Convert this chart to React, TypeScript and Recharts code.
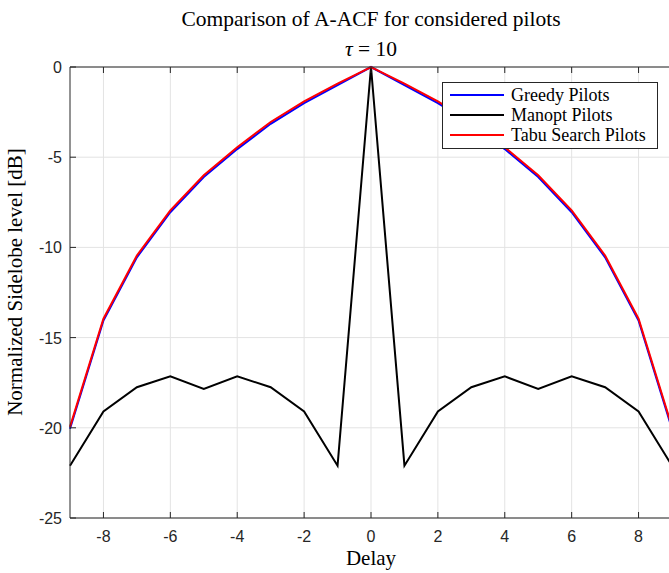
import { CartesianGrid, Line, LineChart, XAxis, YAxis } from "recharts";

const delays = [-9, -8, -7, -6, -5, -4, -3, -2, -1, 0, 1, 2, 3, 4, 5, 6, 7, 8, 9];
const greedy = [-20.05, -14.05, -10.55, -8.05, -6.1, -4.55, -3.15, -2.0, -1.0, 0, -1.0, -2.0, -3.15, -4.55, -6.1, -8.05, -10.55, -14.05, -20.05];
const manopt = [-22.1, -19.1, -17.75, -17.15, -17.85, -17.15, -17.75, -19.1, -22.1, 0, -22.1, -19.1, -17.75, -17.15, -17.85, -17.15, -17.75, -19.1, -22.1];
const tabu = [-19.95, -13.95, -10.45, -7.95, -6.0, -4.45, -3.05, -1.9, -0.92, 0, -0.92, -1.9, -3.05, -4.45, -6.0, -7.95, -10.45, -13.95, -19.95];
const xTicks = [-8, -6, -4, -2, 0, 2, 4, 6, 8];
const yTicks = [-25, -20, -15, -10, -5, 0];

const rows = delays.map((d, i) => ({ delay: d, greedy: greedy[i], manopt: manopt[i], tabu: tabu[i] }));

const AXIS = "#262626";
const serif = "'Liberation Serif', 'DejaVu Serif', serif";
const sans = "'Liberation Sans', Arial, sans-serif";

function BottomTick({ x, y, payload }: any) {
  return (
    <g>
      <line x1={x} y1={y} x2={x} y2={y - 6} stroke={AXIS} />
      <text x={x} y={y + 24} textAnchor="middle" fill={AXIS} fontSize={16} fontFamily={sans}>
        {payload.value}
      </text>
    </g>
  );
}

function TopTick({ x, y }: any) {
  return <line x1={x} y1={y} x2={x} y2={y + 6} stroke={AXIS} />;
}

function LeftTick({ x, y, payload }: any) {
  return (
    <g>
      <line x1={x} y1={y} x2={x + 6} y2={y} stroke={AXIS} />
      <text x={x - 8} y={y + 6} textAnchor="end" fill={AXIS} fontSize={16} fontFamily={sans}>
        {payload.value}
      </text>
    </g>
  );
}

const legendItems = [
  { name: "Greedy Pilots", color: "#0000ff" },
  { name: "Manopt Pilots", color: "#000000" },
  { name: "Tabu Search Pilots", color: "#ff0000" },
];

function LegendBox() {
  return (
    <div
      style={{
        position: "absolute",
        left: 442,
        top: 82,
        width: 216,
        height: 67,
        boxSizing: "border-box",
        background: "#fff",
        border: "1px solid #262626",
        padding: "2px 0 0 7px",
        fontFamily: serif,
        fontSize: 18,
        color: "#000",
        lineHeight: "20px",
      }}
    >
      {legendItems.map((it) => (
        <div key={it.name} style={{ display: "flex", alignItems: "center" }}>
          <span style={{ display: "inline-block", width: 54, height: 2, background: it.color, marginRight: 7 }} />
          {it.name}
        </div>
      ))}
    </div>
  );
}

export default function App() {
  return (
    <div style={{ position: "absolute", left: 0, top: 0, width: 669, height: 573, overflow: "hidden", background: "#fff" }}>
      <LineChart width={680} height={573} data={rows} margin={{ top: 66, right: 8, bottom: 54, left: 69 }}>
        <CartesianGrid stroke="#e3e3e3" horizontalValues={yTicks} verticalValues={xTicks} />
        <XAxis
          dataKey="delay"
          type="number"
          domain={[-9, 9]}
          ticks={xTicks}
          height={1}
          tickSize={0}
          tickMargin={0}
          tick={<BottomTick />}
          stroke={AXIS}
          interval={0}
        />
        <XAxis
          xAxisId="top"
          orientation="top"
          dataKey="delay"
          type="number"
          domain={[-9, 9]}
          ticks={xTicks}
          height={1}
          tickSize={0}
          tickMargin={0}
          tick={<TopTick />}
          stroke={AXIS}
          interval={0}
        />
        <YAxis
          type="number"
          domain={[-25, 0]}
          ticks={yTicks}
          width={1}
          tickSize={0}
          tickMargin={0}
          tick={<LeftTick />}
          stroke={AXIS}
          interval={0}
        />
        <Line dataKey="greedy" stroke="#0000ff" strokeWidth={2} dot={false} isAnimationActive={false} />
        <Line dataKey="manopt" stroke="#000000" strokeWidth={2} dot={false} isAnimationActive={false} />
        <Line dataKey="tabu" stroke="#ff0000" strokeWidth={2} dot={false} isAnimationActive={false} />
      </LineChart>
      <LegendBox />
      <div style={{ position: "absolute", top: 7, left: 0, width: 742, textAlign: "center", fontFamily: serif, fontSize: 21.5, color: "#000" }}>
        Comparison of A-ACF for considered pilots
      </div>
      <div style={{ position: "absolute", top: 37, left: 0, width: 742, textAlign: "center", fontFamily: serif, fontSize: 21.5, color: "#000" }}>
        <i>τ</i> = 10
      </div>
      <div style={{ position: "absolute", top: 546, left: 0, width: 742, textAlign: "center", fontFamily: serif, fontSize: 21, color: "#000" }}>
        Delay
      </div>
      <div
        style={{
          position: "absolute",
          left: 15,
          top: 282,
          transform: "translate(-50%, -50%) rotate(-90deg)",
          whiteSpace: "nowrap",
          fontFamily: serif,
          fontSize: 21,
          color: "#000",
        }}
      >
        Normalized Sidelobe level [dB]
      </div>
    </div>
  );
}
